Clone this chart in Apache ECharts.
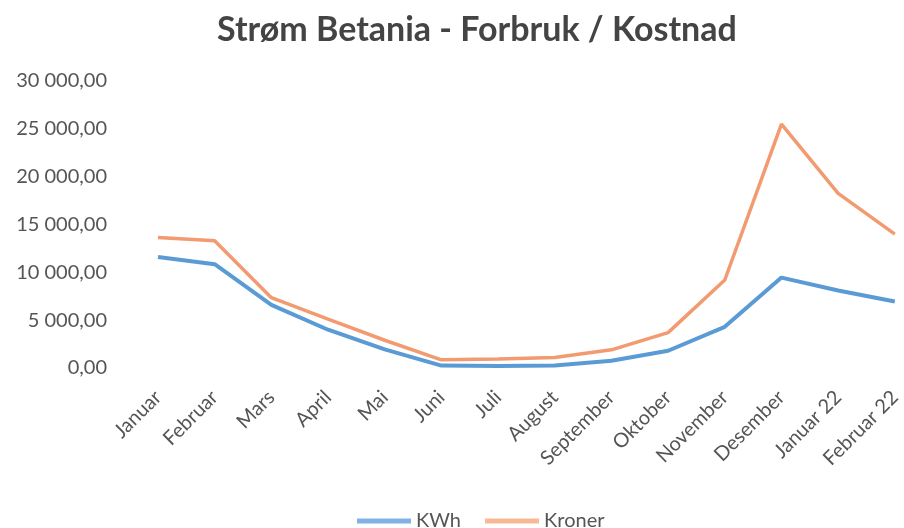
<!DOCTYPE html>
<html>
<head>
<meta charset="utf-8">
<script src="https://cdn.jsdelivr.net/npm/echarts@6/dist/echarts.min.js"></script>
<style>
    html, body { margin: 0; padding: 0; background: #fff; }
    #chart { width: 904px; height: 528px; }
</style>
</head>
<body>
<div id="chart"></div>
<script>
    // månedene
    let months = ['Januar', 'Februar', 'Mars', 'April', 'Mai', 'Juni', 'Juli', 'August',
        'September', 'Oktober', 'November', 'Desember', 'Januar 22', 'Februar 22'];
    let kwh = [11600, 10850, 6600, 4000, 1950, 250, 200, 250, 750, 1800, 4300, 9450, 8100, 6950];
    let kroner = [13650, 13300, 7350, 5100, 2900, 850, 950, 1100, 1900, 3700, 9200, 25500, 18250, 14000];
    let yTicks = [0, 5000, 10000, 15000, 20000, 25000, 30000];

    function fmt(v) {
        let s = Math.round(v).toString().replace(/\B(?=(\d{3})+(?!\d))/g, ' ');
        return s + ',00';
    }

    let chart = echarts.init(document.getElementById('chart'));
    let option = {
        backgroundColor: '#fff',
        animation: false,
        textStyle: { fontFamily: 'Lato' },
        title: {
            text: 'Strøm Betania - Forbruk / Kostnad',
            left: 212,
            top: 8,
            textStyle: { fontFamily: 'Lato', fontSize: 34, fontWeight: 'bold', color: '#444' }
        },
        legend: {
            data: ['KWh', 'Kroner'],
            left: 352,
            top: 506,
            icon: 'rect',
            itemWidth: 54,
            itemHeight: 5,
            itemGap: 24,
            textStyle: { fontSize: 20, color: '#555' }
        },
        grid: { left: 158, right: 9, top: 81, bottom: 160 },
        xAxis: {
            type: 'category',
            data: months,
            boundaryGap: false,
            axisLine: { show: false },
            axisTick: { show: false },
            axisLabel: { rotate: 45, margin: 26, fontSize: 20, color: '#555', interval: 0 }
        },
        yAxis: {
            type: 'value',
            min: yTicks[0],
            max: yTicks[yTicks.length - 1],
            interval: 5000,
            splitLine: { show: false },
            axisLine: { show: false },
            axisTick: { show: false },
            axisLabel: { margin: 51, fontSize: 20, color: '#555', formatter: fmt }
        },
        series: [
            {
                name: 'KWh', type: 'line', data: kwh, symbol: 'none',
                lineStyle: { width: 4, color: '#5B9BD5' }, itemStyle: { color: '#82B1E4' }
            },
            {
                name: 'Kroner', type: 'line', data: kroner, symbol: 'none',
                lineStyle: { width: 3.5, color: '#F29A70' }, itemStyle: { color: '#F8B896' }
            }
        ]
    };
    chart.setOption(option);
</script>
</body>
</html>
